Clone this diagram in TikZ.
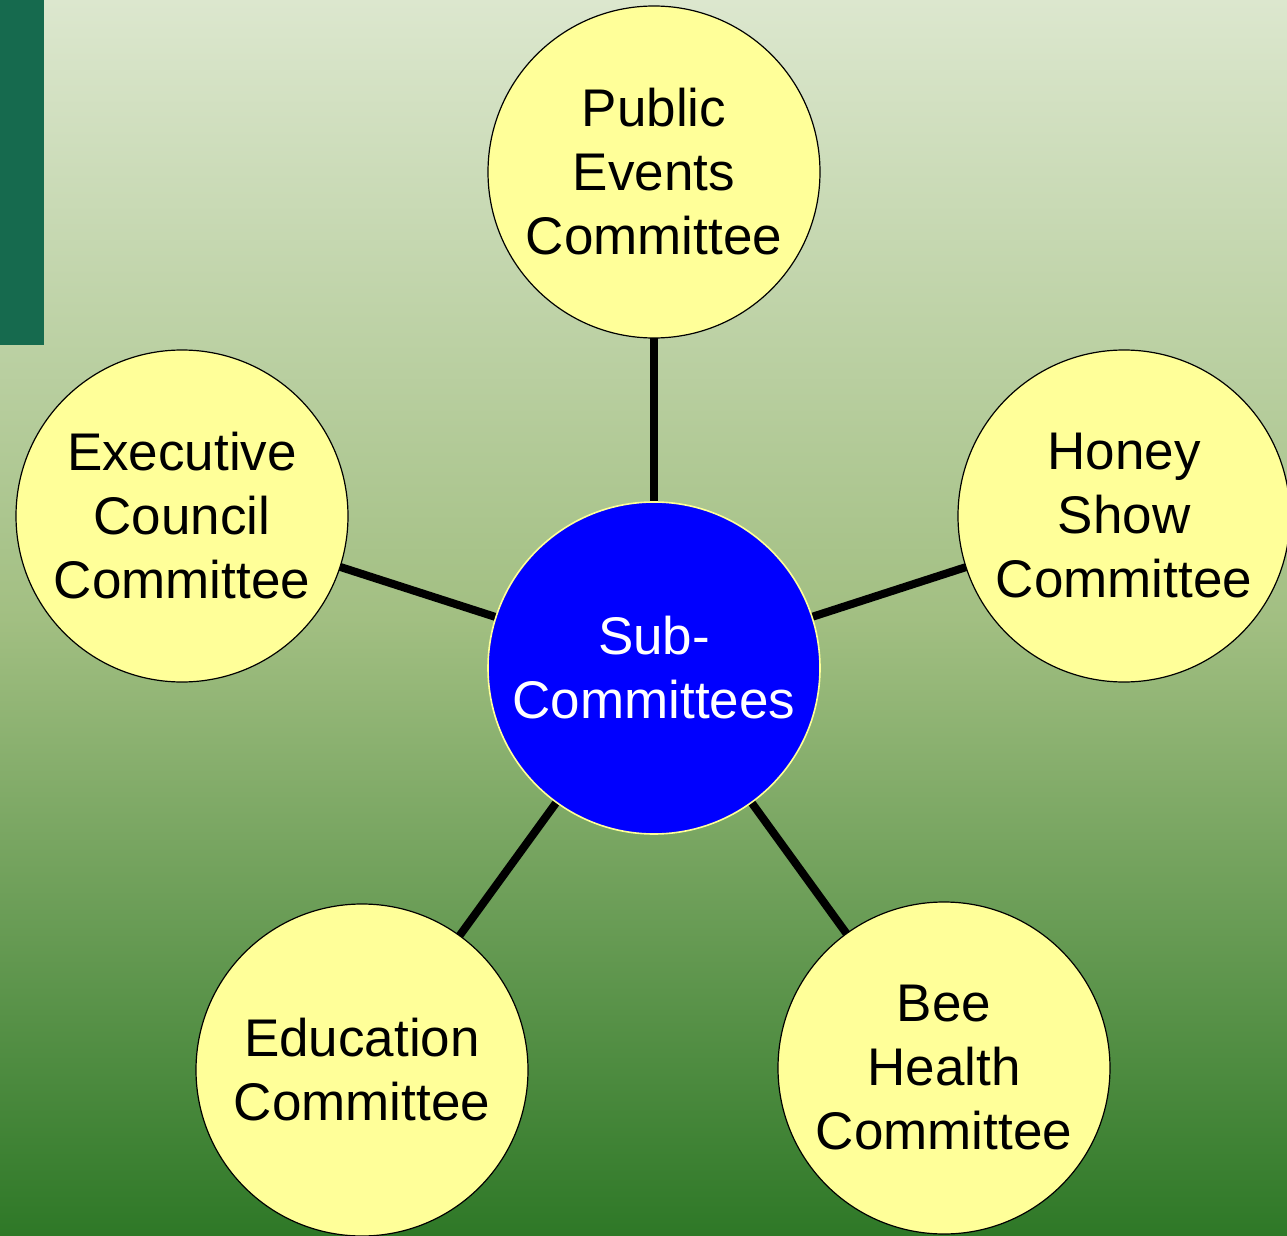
\documentclass[tikz,border=0pt]{standalone}
\usepackage{fontspec}
\setmainfont{Liberation Sans}
\definecolor{bgtop}{HTML}{DCE7CE}
\definecolor{bgmid}{HTML}{A2BF82}
\definecolor{bgbot}{HTML}{2E7827}
\definecolor{barcol}{HTML}{166A4E}
\definecolor{bubble}{HTML}{FFFF99}
\definecolor{hub}{HTML}{0000FF}
\pgfdeclarelayer{backdrop}
\pgfdeclarelayer{links}
\pgfsetlayers{backdrop,links,main}
\tikzset{
  px/.style={x=0.5pt,y=-0.5pt},
  comm/.style={circle,draw=black,line width=0.6pt,fill=bubble,minimum size=166pt,inner sep=0pt,
    align=center,font=\fontsize{26.5}{32}\selectfont,text=black},
  hubnode/.style={circle,draw=bubble,line width=0.8pt,fill=hub,minimum size=166pt,inner sep=0pt,
    align=center,font=\fontsize{26.5}{32}\selectfont,text=white},
  link/.style={line width=4pt,draw=black}
}
\begin{document}
\begin{tikzpicture}[px]
\useasboundingbox (0,0) rectangle (1287,1236);
\begin{pgfonlayer}{backdrop}
\shade[top color=bgtop,bottom color=bgbot,middle color=bgmid] (0,0) rectangle (1287,1236);
\fill[barcol] (0,0) rectangle (44,345);
\end{pgfonlayer}
\node[hubnode] (hubc) at (654,668) {Sub-\\Committees};
\node[comm] (pub) at (654,172) {Public\\Events\\Committee};
\node[comm] (exe) at (182,516) {Executive\\Council\\Committee};
\node[comm] (hon) at (1124,516) {Honey\\Show\\Committee};
\node[comm] (edu) at (362,1070) {Education\\Committee};
\node[comm] (bee) at (944,1068) {Bee\\Health\\Committee};
\begin{pgfonlayer}{links}
\draw[link] (hubc.center) -- (pub.center);
\draw[link] (hubc.center) -- (exe.center);
\draw[link] (hubc.center) -- (hon.center);
\draw[link] (hubc.center) -- (edu.center);
\draw[link] (hubc.center) -- (bee.center);
\end{pgfonlayer}
\end{tikzpicture}
\end{document}
